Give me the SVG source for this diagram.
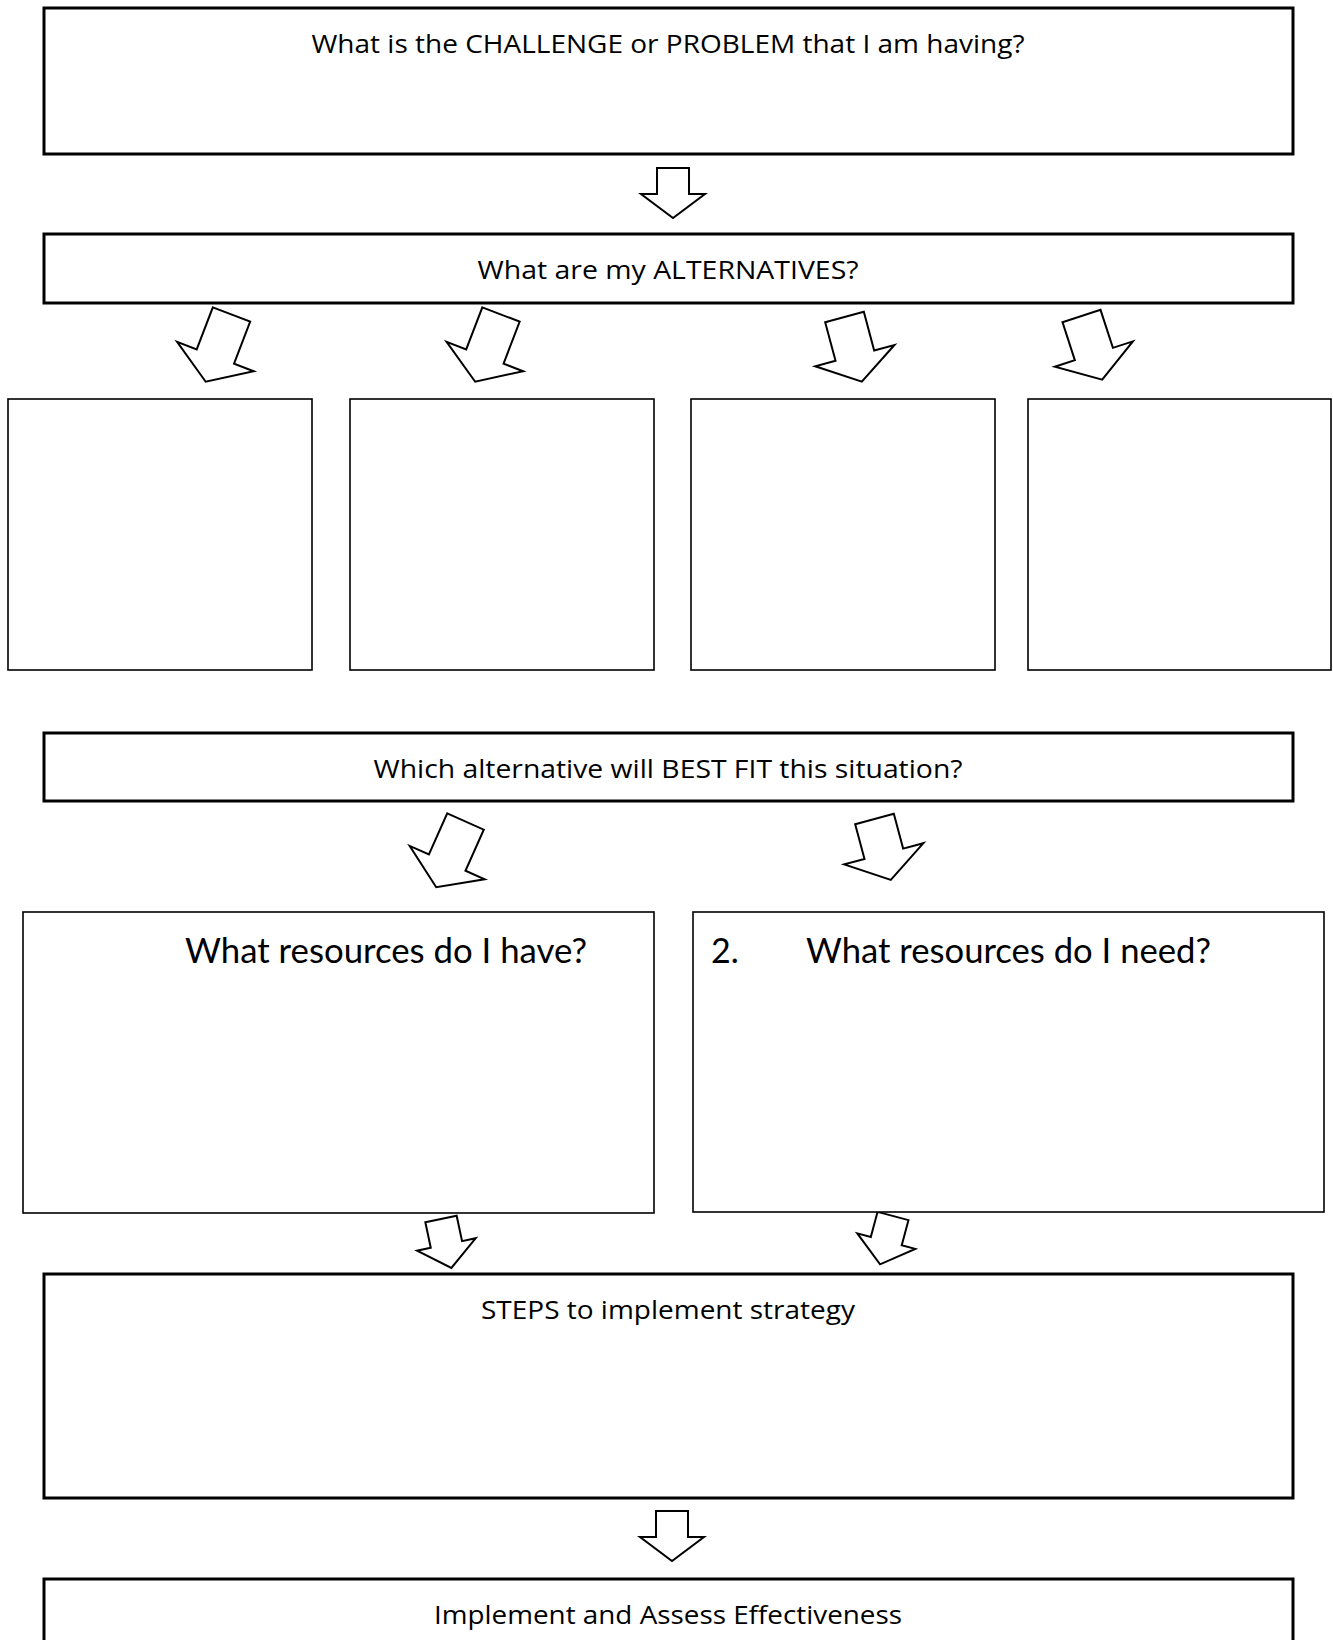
<svg xmlns="http://www.w3.org/2000/svg" xmlns:xlink="http://www.w3.org/1999/xlink" width="1333" height="1640" viewBox="0 0 1333 1640">
<style>
.thick{fill:#fff;stroke:#000;stroke-width:3}
.thin{fill:#fff;stroke:#000;stroke-width:1.6}
.arr{fill:#fff;stroke:#000;stroke-width:2;stroke-linejoin:miter}
.t{font-family:"Open Sans",Lato,"Liberation Sans",sans-serif;font-size:25px;fill:#000}
.tb{font-family:Lato,"Open Sans","Liberation Sans",sans-serif;font-size:34px;fill:#000}
</style>
<defs>
<polygon id="aS" class="arr" points="-16,0 16,0 16,26 32,26 0,50 -32,26 -16,26"/>
<polygon id="aT45" class="arr" points="-20,0 20,0 20,45 41,45 0,72 -41,45 -20,45"/>
<polygon id="aT40" class="arr" points="-20,0 20,0 20,40 41,40 0,67 -41,40 -20,40"/>
<polygon id="aT36" class="arr" points="-20,0 20,0 20,36 41,36 0,63 -41,36 -20,36"/>
<polygon id="aC" class="arr" points="-16,0 16,0 16,26 30,26 0,50 -30,26 -16,26"/>
</defs>
<rect width="1333" height="1640" fill="#fff"/>

<g id="connectors">
<use xlink:href="#aS" transform="translate(673,168)"/>
<use xlink:href="#aT45" transform="translate(231.5,314.5) rotate(21)"/>
<use xlink:href="#aT45" transform="translate(501,314.5) rotate(21)"/>
<use xlink:href="#aT40" transform="translate(844.5,317) rotate(-15)"/>
<use xlink:href="#aT40" transform="translate(1081.5,316) rotate(-18)"/>
<use xlink:href="#aT45" transform="translate(465.5,821.5) rotate(24)"/>
<use xlink:href="#aT36" transform="translate(874.5,819) rotate(-15)"/>
<use xlink:href="#aC" transform="translate(441,1219) rotate(-12)"/>
<use xlink:href="#aC" transform="translate(893,1216) rotate(15)"/>
<use xlink:href="#aS" transform="translate(672,1511)"/>
</g>

<g id="challenge">
<rect class="thick" x="44" y="8" width="1249" height="146"/>
<text class="t" x="668" y="53" text-anchor="middle" textLength="713" lengthAdjust="spacingAndGlyphs">What is the CHALLENGE or PROBLEM that I am having?</text>
</g>
<g id="alternatives">
<rect class="thick" x="44" y="234" width="1249" height="69"/>
<text class="t" x="668" y="279" text-anchor="middle" textLength="381" lengthAdjust="spacingAndGlyphs">What are my ALTERNATIVES?</text>
</g>
<g id="alt1"><rect class="thin" x="8" y="399" width="304" height="271"/></g>
<g id="alt2"><rect class="thin" x="350" y="399" width="304" height="271"/></g>
<g id="alt3"><rect class="thin" x="691" y="399" width="304" height="271"/></g>
<g id="alt4"><rect class="thin" x="1028" y="399" width="303" height="271"/></g>
<g id="bestfit">
<rect class="thick" x="44" y="733" width="1249" height="68"/>
<text class="t" x="668" y="778" text-anchor="middle" textLength="589" lengthAdjust="spacingAndGlyphs">Which alternative will BEST FIT this situation?</text>
</g>
<g id="have">
<rect class="thin" x="23" y="912" width="631" height="301"/>
<text class="tb" x="185" y="963" textLength="402" lengthAdjust="spacingAndGlyphs">What resources do I have?</text>
</g>
<g id="need">
<rect class="thin" x="693" y="912" width="631" height="300"/>
<text class="tb" x="711" y="963">2.</text>
<text class="tb" x="806" y="963" textLength="405" lengthAdjust="spacingAndGlyphs">What resources do I need?</text>
</g>
<g id="steps">
<rect class="thick" x="44" y="1274" width="1249" height="224"/>
<text class="t" x="668" y="1319" text-anchor="middle" textLength="374" lengthAdjust="spacingAndGlyphs">STEPS to implement strategy</text>
</g>
<g id="implement">
<rect class="thick" x="44" y="1579" width="1249" height="90"/>
<text class="t" x="668" y="1624" text-anchor="middle" textLength="468" lengthAdjust="spacingAndGlyphs">Implement and Assess Effectiveness</text>
</g>
</svg>
